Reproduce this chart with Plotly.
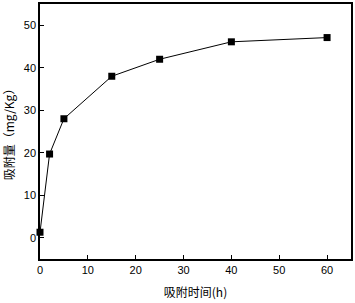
import plotly.graph_objects as go

time_h = [0, 2, 5, 15, 25, 40, 60]
adsorption = [1.3, 19.7, 28.0, 38.0, 42.0, 46.1, 47.1]
x_ticks = [0, 10, 20, 30, 40, 50, 60]
y_ticks = [0, 10, 20, 30, 40, 50]

fig = go.Figure()
fig.add_trace(go.Scatter(
    x=time_h, y=adsorption, mode="lines+markers",
    line=dict(color="black", width=1),
    marker=dict(symbol="square", size=7, color="black"),
    showlegend=False, cliponaxis=False,
))

axis_common = dict(
    showgrid=False, zeroline=False, showline=True, linecolor="black",
    linewidth=1.5, mirror=True, ticks="inside", ticklen=4, tickwidth=1,
    tickcolor="black", automargin=False,
    tickfont=dict(family="Liberation Sans, Arial", size=11, color="black"),
)
title_font = dict(family="Noto Sans CJK SC", size=12, color="black")
fig.update_xaxes(range=[0, 65], tickvals=x_ticks, **axis_common,
                 title=dict(text="吸附时间(h)", font=title_font, standoff=14))
fig.update_yaxes(range=[-5, 55], tickvals=y_ticks, **axis_common,
                 title=dict(text="吸附量（mg/Kg）", font=title_font, standoff=8))

fig.update_layout(
    width=355, height=303,
    margin=dict(l=40, r=4, t=4, b=44),
    plot_bgcolor="white", paper_bgcolor="white",
)
fig.write_html("out.html", config={"displayModeBar": False},
               post_script="document.body.style.margin='0';document.body.style.overflow='hidden';")
